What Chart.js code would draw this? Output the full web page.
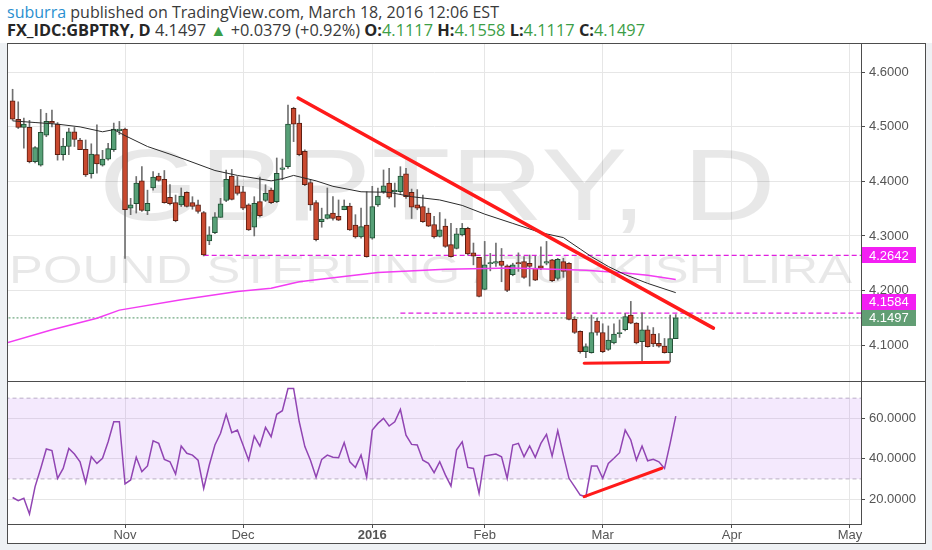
<!DOCTYPE html>
<html>
<head>
<meta charset="utf-8">
<title>GBPTRY, D</title>
<script src="https://cdn.jsdelivr.net/npm/chart.js@4.4.1/dist/chart.umd.min.js"></script>
<style>
  html, body { margin: 0; padding: 0; background: #fff; }
  #wrap { position: relative; width: 932px; height: 550px; overflow: hidden; font-family: "Open Sans", sans-serif; }
  .hdr { position: absolute; left: 7px; font-size: 16px; line-height: 18px; white-space: nowrap; color: #3a3a3a; transform-origin: 0 50%; }
  #hdr1 { top: 3px; }
  #hdr2 { top: 21px; }
  .user { color: #2a8fd0; }
  .hdr b { font-weight: 700; color: #262626; }
  .g { color: #3c9e46; }
  #c { position: absolute; left: 0; top: 0; }
</style>
</head>
<body>
<div id="wrap">
  <div class="hdr" id="hdr1"><span class="user">suburra</span> published on TradingView.com, March 18, 2016 12:06 EST</div>
  <div class="hdr" id="hdr2"><b>FX_IDC:GBPTRY, D</b> 4.1497 <span class="g">▲</span> +0.0379 (+0.92%) <b>O:</b><span class="g">4.1117</span> <b>H:</b><span class="g">4.1558</span> <b>L:</b><span class="g">4.1117</span> <b>C:</b><span class="g">4.1497</span></div>
  <canvas id="c" width="932" height="550"></canvas>
</div>
<script>
// trading calendar (weekdays, market closed on new year's day)
const firstDay = '2015-10-05';
const lastDay = '2016-05-06';
const closedDays = ['2016-01-01'];
const monthNames = { '2015-11': 'Nov', '2015-12': 'Dec', '2016-01': '2016', '2016-02': 'Feb', '2016-03': 'Mar', '2016-04': 'Apr', '2016-05': 'May' };

// daily candles, one value per trading day from Oct 5 2015
const open = [4.548,4.514,4.499,4.499,4.436,4.430,4.485,4.510,4.505,4.449,4.464,4.491,4.476,4.459,4.414,4.449,4.430,4.441,4.458,4.493,
  4.496,4.351,4.359,4.401,4.346,4.388,4.410,4.404,4.371,4.361,4.357,4.380,4.361,4.357,4.343,4.291,4.306,4.334,4.365,4.410,
  4.392,4.381,4.357,4.316,4.363,4.365,4.384,4.363,4.422,4.427,4.534,4.507,4.455,4.398,4.361,4.326,4.332,4.342,4.336,4.348,
  4.355,4.320,4.298,4.320,4.296,4.357,4.381,4.397,4.381,4.381,4.414,4.380,4.357,4.354,4.342,4.321,4.299,4.318,4.284,4.277,
  4.302,4.314,4.269,4.261,4.202,4.249,4.250,4.254,4.245,4.229,4.251,4.253,4.250,4.241,4.245,4.250,4.256,4.222,4.253,4.250,
  4.147,4.125,4.088,4.086,4.144,4.123,4.092,4.104,4.121,4.128,4.155,4.140,4.106,4.128,4.120,4.103,4.098,4.086,4.1117];
const high = [4.569,4.546,4.516,4.512,4.464,4.532,4.525,4.531,4.508,4.479,4.4975,4.499,4.479,4.476,4.469,4.504,4.457,4.470,4.507,4.510,
  4.498,4.369,4.409,4.427,4.384,4.418,4.415,4.420,4.394,4.375,4.388,4.381,4.372,4.366,4.345,4.317,4.343,4.369,4.421,4.422,
  4.409,4.391,4.359,4.372,4.408,4.394,4.388,4.443,4.441,4.540,4.536,4.522,4.458,4.403,4.365,4.351,4.388,4.372,4.366,4.366,
  4.360,4.339,4.351,4.381,4.391,4.388,4.421,4.424,4.397,4.427,4.424,4.386,4.385,4.375,4.351,4.336,4.343,4.331,4.323,4.314,
  4.323,4.316,4.287,4.261,4.290,4.268,4.287,4.277,4.247,4.250,4.269,4.262,4.265,4.263,4.280,4.290,4.257,4.259,4.259,4.251,
  4.152,4.126,4.102,4.155,4.149,4.139,4.135,4.139,4.146,4.158,4.180,4.141,4.159,4.135,4.132,4.121,4.112,4.155,4.1558];
const low = [4.512,4.497,4.461,4.434,4.434,4.428,4.482,4.500,4.439,4.439,4.449,4.464,4.458,4.409,4.406,4.415,4.428,4.439,4.455,4.486,
  4.259,4.339,4.342,4.345,4.339,4.384,4.400,4.360,4.357,4.326,4.354,4.353,4.349,4.342,4.2633,4.284,4.304,4.334,4.363,4.366,
  4.375,4.348,4.310,4.300,4.335,4.363,4.359,4.361,4.403,4.424,4.473,4.447,4.392,4.347,4.291,4.316,4.331,4.329,4.328,4.348,
  4.310,4.296,4.296,4.261,4.294,4.354,4.378,4.369,4.353,4.378,4.369,4.332,4.348,4.325,4.317,4.296,4.298,4.279,4.261,4.276,
  4.300,4.265,4.247,4.188,4.201,4.236,4.244,4.216,4.198,4.227,4.235,4.222,4.208,4.218,4.238,4.247,4.216,4.219,4.224,4.146,
  4.121,4.085,4.077,4.085,4.118,4.086,4.090,4.102,4.114,4.126,4.139,4.102,4.071,4.096,4.097,4.096,4.085,4.069,4.1117];
const close = [4.514,4.499,4.505,4.436,4.462,4.490,4.510,4.507,4.449,4.465,4.491,4.477,4.458,4.412,4.450,4.432,4.441,4.460,4.496,4.496,
  4.348,4.357,4.397,4.347,4.360,4.408,4.402,4.361,4.359,4.328,4.373,4.354,4.354,4.345,4.265,4.302,4.335,4.359,4.404,4.367,
  4.378,4.351,4.311,4.360,4.337,4.378,4.361,4.415,4.425,4.505,4.505,4.449,4.394,4.357,4.293,4.331,4.339,4.332,4.329,4.355,
  4.311,4.298,4.317,4.262,4.354,4.373,4.392,4.371,4.384,4.410,4.372,4.353,4.351,4.326,4.318,4.298,4.311,4.281,4.262,4.304,
  4.314,4.267,4.263,4.189,4.247,4.251,4.253,4.246,4.200,4.247,4.249,4.224,4.244,4.219,4.241,4.253,4.218,4.257,4.235,4.147,
  4.123,4.088,4.097,4.123,4.123,4.088,4.109,4.120,4.123,4.152,4.140,4.104,4.128,4.097,4.102,4.098,4.086,4.1118,4.1497];

// moving averages (bar index, price)
const smaFastIdx = [0,4,8,12,16,18,20,24,28,31,36,40,46,48,50,54,57,62,67,71,76,80,84,89,94,98,101,103,106,109,113,118];
const smaFastVal = [4.511,4.508,4.505,4.500,4.491,4.495,4.484,4.464,4.450,4.439,4.420,4.411,4.401,4.405,4.411,4.401,4.391,4.381,4.380,4.372,
  4.366,4.356,4.340,4.323,4.306,4.297,4.276,4.262,4.244,4.229,4.213,4.196];
const smaSlowIdx = [-1,7,15,19,30,40,46,51,65,77,89,102,109,113,118];
const smaSlowVal = [4.104,4.128,4.149,4.164,4.183,4.198,4.204,4.216,4.233,4.239,4.241,4.237,4.232,4.228,4.220];

// RSI, one value per trading day
const rsi = [20.8,19.2,20.4,12.6,26.2,35.2,44.8,44.0,30.3,35.2,45.1,42.3,38.5,28.1,41.0,37.7,40.2,48.4,58.3,58.3,
  27.5,29.5,40.7,33.6,36.4,48.9,47.6,39.7,38.5,32.4,46.3,42.7,41.8,39.3,25.3,36.9,46.8,52.6,62.0,52.9,
  54.2,46.8,39.3,51.2,46.3,55.5,50.9,62.0,63.8,74.8,74.8,58.3,46.0,39.3,30.8,39.7,41.8,40.7,40.5,48.0,
  38.5,35.7,41.8,30.8,54.2,57.5,60.0,56.2,58.3,64.4,51.7,47.1,46.8,39.3,37.7,33.1,38.5,32.0,26.5,44.4,
  48.4,35.7,35.2,22.9,41.3,41.8,42.3,41.0,30.3,46.8,47.6,41.0,46.3,40.7,47.6,52.1,41.3,53.9,41.8,30.3,
  26.2,22.0,21.2,36.4,36.4,30.3,37.7,40.2,43.0,54.2,49.3,39.3,46.3,39.0,39.7,38.5,35.2,47.6,61.1];
const rsiBand = [30, 70];

// drawings: [bar index, value]
const trendLine = [[50.8, 4.553], [124.7, 4.131]];
const supportLine = [[101.7, 4.0665], [116.7, 4.0683]];
const rsiLine = [[101.7, 21.2], [115.5, 35.3]];
const levelHigh = [[34, 4.2642], [160, 4.2642]];
const levelLow = [[69, 4.1584], [160, 4.1584]];
const lastPrice = [[-5, 4.1497], [160, 4.1497]];

const priceTicks = [4.1, 4.2, 4.3, 4.4, 4.5, 4.6];
const rsiTicks = [20, 40, 60];

// header lines are fitted to the width they have in the snapshot
[['hdr1', 499], ['hdr2', 645]].forEach(([id, right]) => {
  const el = document.getElementById(id);
  const w = el.getBoundingClientRect().width;
  el.style.transform = 'scaleX(' + ((right - el.offsetLeft) / w) + ')';
});

// build trading days
const dates = [];
for (let d = new Date(firstDay + 'T00:00:00Z'); d <= new Date(lastDay + 'T00:00:00Z'); d.setUTCDate(d.getUTCDate() + 1)) {
  const wd = d.getUTCDay();
  const s = d.toISOString().slice(0, 10);
  if (wd === 0 || wd === 6 || closedDays.includes(s)) continue;
  dates.push(s);
}
const monthTicks = [];
dates.forEach((d, i) => {
  const m = d.slice(0, 7);
  if (monthNames[m] && (i === 0 || dates[i - 1].slice(0, 7) !== m)) monthTicks.push({ value: i, label: monthNames[m] });
});

const UP = '#57a077', UP_LINE = '#1f4f33', DOWN = '#c9492f', DOWN_LINE = '#5b1e12';
const GRID = '#e6e6e6', AXIS = '#4d4d4d', TXT = '#555';

const pts = (xs, ys) => xs.map((x, i) => ({ x: x, y: ys[i] }));
const seg = (arr) => arr.map(p => ({ x: p[0], y: p[1] }));

const wickData = close.map((c, i) => ({ x: i, y: [low[i], high[i]] }));
const bodyData = close.map((c, i) => ({ x: i, y: [Math.min(open[i], c), Math.max(open[i], c)] }));
const isUp = (i) => close[i] >= open[i];

Chart.defaults.font.family = '"Liberation Sans", Arial, sans-serif';
Chart.defaults.font.size = 13;
Chart.defaults.color = TXT;

// watermark text stretched to the width it has on the chart
function stretchText(ctx, txt, size, left, right, baseline) {
  ctx.font = size + 'px "Liberation Sans", Arial, sans-serif';
  ctx.textAlign = 'left';
  ctx.textBaseline = 'alphabetic';
  const m = ctx.measureText(txt);
  const w = m.actualBoundingBoxRight + m.actualBoundingBoxLeft;
  ctx.save();
  ctx.translate(left, baseline);
  ctx.scale((right - left) / w, 1);
  ctx.fillText(txt, m.actualBoundingBoxLeft, 0);
  ctx.restore();
}

const watermark = {
  id: 'watermark',
  beforeDraw(chart) {
    // light margin around the chart frame
    const ctx = chart.ctx;
    ctx.save();
    ctx.fillStyle = '#eef1f4';
    ctx.fillRect(0, 43, 7, 507);
    ctx.fillRect(926, 43, 6, 507);
    ctx.fillRect(0, 544, 932, 6);
    ctx.restore();
  },
  beforeDatasetsDraw(chart) {
    const { ctx, chartArea } = chart;
    const y = chart.scales.y;
    ctx.save();
    ctx.beginPath();
    ctx.rect(chartArea.left, y.top, chartArea.right - chartArea.left, y.bottom - y.top);
    ctx.clip();
    ctx.fillStyle = 'rgba(0,0,0,0.09)';
    stretchText(ctx, 'GBPTRY, D', 102, 105, 770, 220);
    stretchText(ctx, 'POUND STERLING / TURKISH LIRA', 39, 13, 852, 283);
    ctx.restore();
  }
};

const priceLabels = [
  { value: 4.2642, bg: '#f31ff3' },
  { value: 4.1584, bg: '#f31ff3' },
  { value: 4.1497, bg: '#629e74' }
];

const frame = {
  id: 'frame',
  afterDraw(chart) {
    const { ctx, chartArea } = chart;
    const y = chart.scales.y;
    // price labels on the right axis, pushed apart when they overlap
    const h = 16;
    const boxes = priceLabels.map(p => ({ ...p, cy: y.getPixelForValue(p.value) })).sort((a, b) => b.cy - a.cy);
    for (let i = 1; i < boxes.length; i++) {
      if (boxes[i - 1].cy - boxes[i].cy < h) boxes[i].cy = boxes[i - 1].cy - h;
    }
    ctx.save();
    ctx.font = '13px "Liberation Sans", Arial, sans-serif';
    ctx.textBaseline = 'middle';
    boxes.forEach(b => {
      ctx.fillStyle = b.bg;
      ctx.fillRect(chartArea.right + 1, Math.round(b.cy - h / 2), 54, h);
      ctx.fillStyle = '#fff';
      ctx.fillText(b.value.toFixed(4), chartArea.right + 8, b.cy + 0.5);
    });
    // outer frame and panel separator
    ctx.strokeStyle = AXIS;
    ctx.lineWidth = 1;
    ctx.strokeRect(7.5, 43.5, 918, 500);
    ctx.beginPath();
    ctx.moveTo(7, Math.round(y.bottom) + 0.5);
    ctx.lineTo(926, Math.round(y.bottom) + 0.5);
    ctx.stroke();
    ctx.restore();
  }
};

const lineDs = (data, color, width, order, extra) => Object.assign({
  type: 'line', data: data, borderColor: color, borderWidth: width, pointRadius: 0,
  fill: false, tension: 0, order: order, yAxisID: 'y'
}, extra || {});

new Chart(document.getElementById('c'), {
  type: 'bar',
  data: {
    datasets: [
      // RSI band
      lineDs(seg([[-5, rsiBand[1]], [160, rsiBand[1]]]), '#b9b0c2', 1, 21, { yAxisID: 'yRsi', borderDash: [4, 3] }),
      lineDs(seg([[-5, rsiBand[0]], [160, rsiBand[0]]]), '#b9b0c2', 1, 20, { yAxisID: 'yRsi', borderDash: [4, 3], fill: '-1', backgroundColor: 'rgba(180,110,240,0.15)' }),
      // price levels
      lineDs(seg(lastPrice), '#4f9466', 1, 12, { borderDash: [2, 2] }),
      lineDs(seg(levelHigh), '#e01fe0', 1.3, 11, { borderDash: [5, 3] }),
      lineDs(seg(levelLow), '#e01fe0', 1.3, 11, { borderDash: [5, 3] }),
      // candles
      {
        type: 'bar', data: wickData, barThickness: 1, grouped: false, order: 9,
        backgroundColor: '#707070', yAxisID: 'y'
      },
      {
        type: 'bar', data: bodyData, barThickness: 5, grouped: false, order: 8, borderSkipped: false,
        borderWidth: 1, yAxisID: 'y',
        backgroundColor: (c) => isUp(c.dataIndex) ? UP : DOWN,
        borderColor: (c) => isUp(c.dataIndex) ? UP_LINE : DOWN_LINE
      },
      // moving averages
      lineDs(pts(smaSlowIdx, smaSlowVal), '#f23cf2', 1.5, 6),
      lineDs(pts(smaFastIdx, smaFastVal), '#2b2b2b', 1, 5),
      // RSI
      lineDs(rsi.map((v, i) => ({ x: i, y: v })), '#9145b3', 1.5, 4, { yAxisID: 'yRsi' }),
      // drawings
      lineDs(seg(trendLine), '#ff1a1a', 3.5, 2, { borderCapStyle: 'round' }),
      lineDs(seg(supportLine), '#ff1a1a', 3, 2, { borderCapStyle: 'round' }),
      lineDs(seg(rsiLine), '#ff1a1a', 3, 1, { yAxisID: 'yRsi', borderCapStyle: 'round' })
    ]
  },
  options: {
    responsive: false,
    animation: false,
    events: [],
    layout: { padding: { left: 8, top: 44, right: 6, bottom: 7 } },
    plugins: { legend: { display: false }, tooltip: { enabled: false } },
    scales: {
      x: {
        type: 'linear', min: -0.82, max: 150.96, offset: false,
        grid: { color: GRID, offset: false, tickLength: 4, tickColor: AXIS },
        border: { color: AXIS },
        afterBuildTicks: (s) => { s.ticks = monthTicks.map(t => ({ value: t.value })); },
        afterFit: (s) => { s.height = 19; },
        ticks: {
          autoSkip: false, maxRotation: 0, padding: 0, color: TXT,
          callback: (v) => { const t = monthTicks.find(m => m.value === v); return t ? t.label : ''; },
          font: (c) => ({ size: 13, weight: (c.tick && c.tick.label === '2016') ? 'bold' : 'normal' })
        }
      },
      y: {
        type: 'linear', position: 'right', stack: 'panes', stackWeight: 337,
        min: 4.034, max: 4.652,
        grid: { color: GRID, tickLength: 4, tickColor: AXIS },
        border: { color: AXIS },
        afterBuildTicks: (s) => { s.ticks = priceTicks.map(v => ({ value: v })); },
        afterFit: (s) => { s.width = 65; },
        ticks: { padding: 4, color: TXT, callback: (v) => v.toFixed(4) }
      },
      yRsi: {
        type: 'linear', axis: 'y', position: 'right', stack: 'panes', stackWeight: 143,
        min: 7.67, max: 78.5,
        grid: { color: GRID, tickLength: 4, tickColor: AXIS },
        border: { color: AXIS },
        afterBuildTicks: (s) => { s.ticks = rsiTicks.map(v => ({ value: v })); },
        afterFit: (s) => { s.width = 65; },
        ticks: { padding: 4, color: TXT, callback: (v) => v.toFixed(4) }
      }
    }
  },
  plugins: [watermark, frame]
});
</script>
</body>
</html>
